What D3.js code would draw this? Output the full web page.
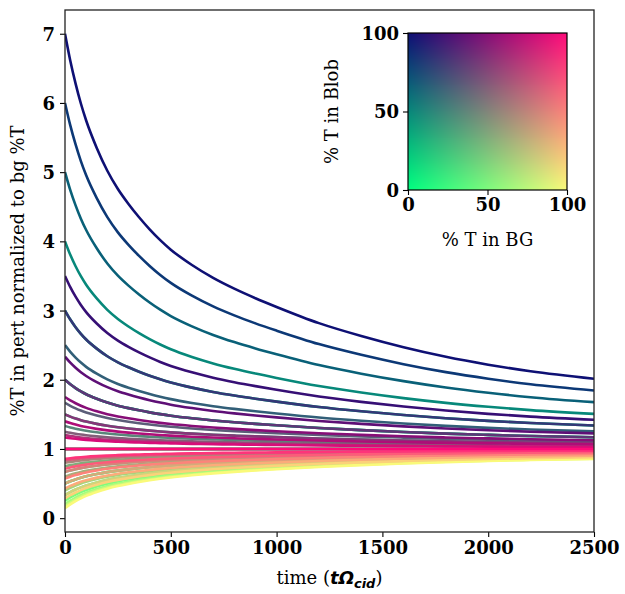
<!DOCTYPE html>
<html>
<head>
<meta charset="utf-8">
<script src="https://cdn.jsdelivr.net/npm/d3@7"></script>
<style>
  html, body { margin: 0; padding: 0; background: #fff; }
  svg { display: block; }
</style>
</head>
<body>
<svg id="chart" width="625" height="594"></svg>
<script>
// Tracer percentages in the background and in the blob (each pair is one run)
const bgLevels = [10, 20, 30, 40, 50, 60, 70];
const blobLevels = [10, 20, 30, 40, 50, 60, 70];

// Shared relaxation of the blob/background contrast with time
const decayTimes = [0, 25, 50, 75, 100, 150, 200, 250, 300, 350, 400, 450, 500, 600, 700, 800, 900, 1000, 1200, 1400, 1600, 1800, 2000, 2200, 2500];
const decayShape = [1, 0.935, 0.88, 0.832, 0.791, 0.725, 0.670, 0.626, 0.590, 0.558, 0.529, 0.503, 0.480, 0.443, 0.412, 0.386, 0.363, 0.342, 0.303, 0.272, 0.245, 0.222, 0.203, 0.187, 0.169];

const xTicks = [0, 500, 1000, 1500, 2000, 2500];
const yTicks = [0, 1, 2, 3, 4, 5, 6, 7];
const insetTicks = [0, 50, 100];

// Corner colours of the 2D colour map
const cornerBL = [0, 255, 128];    // low BG, low blob
const cornerBR = [250, 250, 122];  // high BG, low blob
const cornerTL = [14, 16, 116];    // low BG, high blob
const cornerTR = [255, 12, 122];   // high BG, high blob

function mix2d(u, v) {
  const c = [0, 1, 2].map(i =>
    (1 - u) * (1 - v) * cornerBL[i] + u * (1 - v) * cornerBR[i] +
    (1 - u) * v * cornerTL[i] + u * v * cornerTR[i]);
  return c.map(Math.round);
}

const svg = d3.select("#chart");
const plot = { left: 65, right: 594, top: 10, bottom: 532 };

const x = d3.scaleLinear().domain([0, 2500]).range([plot.left, plot.right]);
const y = d3.scaleLinear().domain([-0.2, 7.343]).range([plot.bottom, plot.top]);

const serif = "'DejaVu Serif', serif";

svg.append("defs").append("clipPath").attr("id", "plotClip")
  .append("rect")
  .attr("x", plot.left).attr("y", plot.top)
  .attr("width", plot.right - plot.left).attr("height", plot.bottom - plot.top);

// Build one series per (BG, blob) pair
const bgExt = d3.extent(bgLevels), blobExt = d3.extent(blobLevels);
const runs = [];
bgLevels.forEach(bg => {
  blobLevels.forEach(blob => {
    const ratio = blob / bg;
    const u = (bg - bgExt[0]) / (bgExt[1] - bgExt[0]);
    const v = (blob - blobExt[0]) / (blobExt[1] - blobExt[0]);
    const col = mix2d(u, v);
    runs.push({
      bg, blob,
      color: `rgb(${col[0]},${col[1]},${col[2]})`,
      points: decayTimes.map((t, i) => [t, 1 + (ratio - 1) * decayShape[i]])
    });
  });
});

const line = d3.line()
  .x(d => x(d[0]))
  .y(d => y(d[1]))
  .curve(d3.curveMonotoneX);

svg.append("g").attr("clip-path", "url(#plotClip)")
  .selectAll("path").data(runs).join("path")
  .attr("d", d => line(d.points))
  .attr("fill", "none")
  .attr("stroke", d => d.color)
  .attr("stroke-width", 2.6)
  .attr("stroke-linejoin", "round");

// Axes
const xAxis = svg.append("g")
  .attr("transform", `translate(0,${plot.bottom})`)
  .call(d3.axisBottom(x).tickValues(xTicks).tickSize(5).tickPadding(4).tickFormat(d3.format("d")));
const yAxis = svg.append("g")
  .attr("transform", `translate(${plot.left},0)`)
  .call(d3.axisLeft(y).tickValues(yTicks).tickSize(5).tickPadding(5).tickFormat(d3.format("d")));

[xAxis, yAxis].forEach(g => {
  g.select(".domain").remove();
  g.selectAll(".tick line").attr("stroke", "#000").attr("stroke-width", 1.1);
  g.selectAll(".tick text")
    .attr("fill", "#000")
    .style("font-family", serif)
    .style("font-weight", "bold")
    .style("font-size", "18px");
});
yAxis.selectAll(".tick text").attr("dy", "0.36em");
xAxis.selectAll(".tick text").attr("dy", "0.72em");

// Frame
svg.append("rect")
  .attr("x", plot.left).attr("y", plot.top)
  .attr("width", plot.right - plot.left).attr("height", plot.bottom - plot.top)
  .attr("fill", "none").attr("stroke", "#222").attr("stroke-width", 1.3);

// Axis titles
svg.append("text")
  .attr("transform", `translate(24,${(plot.top + plot.bottom) / 2}) rotate(-90)`)
  .attr("text-anchor", "middle")
  .style("font-family", serif)
  .style("font-size", "18px")
  .text("%T in pert normalized to bg %T");

const xt = svg.append("text")
  .attr("x", (plot.left + plot.right) / 2)
  .attr("y", 584)
  .attr("text-anchor", "middle")
  .style("font-family", serif)
  .style("font-size", "18px");
xt.append("tspan").text("time (");
xt.append("tspan")
  .style("font-family", "'DejaVu Sans', sans-serif")
  .style("font-weight", "bold")
  .style("font-style", "italic")
  .text("tΩ");
xt.append("tspan")
  .attr("dy", 4)
  .style("font-family", "'DejaVu Sans', sans-serif")
  .style("font-weight", "bold")
  .style("font-style", "italic")
  .style("font-size", "13px")
  .text("cid");
xt.append("tspan").attr("dy", -4).text(")");

// Inset: the colour key
const inset = { left: 408, right: 567, top: 33, bottom: 190 };
const ix = d3.scaleLinear().domain([0, 100]).range([inset.left, inset.right]);
const iy = d3.scaleLinear().domain([0, 100]).range([inset.bottom, inset.top]);

const N = 160;
const cv = document.createElement("canvas");
cv.width = N; cv.height = N;
const ctx = cv.getContext("2d");
const img = ctx.createImageData(N, N);
for (let r = 0; r < N; r++) {
  for (let c = 0; c < N; c++) {
    const u = c / (N - 1), v = 1 - r / (N - 1);
    const col = mix2d(u, v);
    const k = (r * N + c) * 4;
    img.data[k] = col[0]; img.data[k + 1] = col[1]; img.data[k + 2] = col[2]; img.data[k + 3] = 255;
  }
}
ctx.putImageData(img, 0, 0);

svg.append("image")
  .attr("x", inset.left).attr("y", inset.top)
  .attr("width", inset.right - inset.left).attr("height", inset.bottom - inset.top)
  .attr("preserveAspectRatio", "none")
  .attr("href", cv.toDataURL());

svg.append("rect")
  .attr("x", inset.left).attr("y", inset.top)
  .attr("width", inset.right - inset.left).attr("height", inset.bottom - inset.top)
  .attr("fill", "none").attr("stroke", "#000").attr("stroke-width", 1.2);

const ixAxis = svg.append("g")
  .attr("transform", `translate(0,${inset.bottom})`)
  .call(d3.axisBottom(ix).tickValues(insetTicks).tickSize(5).tickPadding(3));
const iyAxis = svg.append("g")
  .attr("transform", `translate(${inset.left},0)`)
  .call(d3.axisLeft(iy).tickValues(insetTicks).tickSize(5).tickPadding(4));
[ixAxis, iyAxis].forEach(g => {
  g.select(".domain").remove();
  g.selectAll(".tick line").attr("stroke", "#000").attr("stroke-width", 1.1);
  g.selectAll(".tick text")
    .attr("fill", "#000")
    .style("font-family", serif)
    .style("font-weight", "bold")
    .style("font-size", "18px");
});
iyAxis.selectAll(".tick text").attr("dy", "0.36em");
ixAxis.selectAll(".tick text").attr("dy", "0.72em");

svg.append("text")
  .attr("x", (inset.left + inset.right) / 2)
  .attr("y", 246)
  .attr("text-anchor", "middle")
  .style("font-family", serif)
  .style("font-size", "18px")
  .text("% T in BG");

svg.append("text")
  .attr("transform", `translate(338,${(inset.top + inset.bottom) / 2}) rotate(-90)`)
  .attr("text-anchor", "middle")
  .style("font-family", serif)
  .style("font-size", "18px")
  .text("% T in Blob");
</script>
</body>
</html>
